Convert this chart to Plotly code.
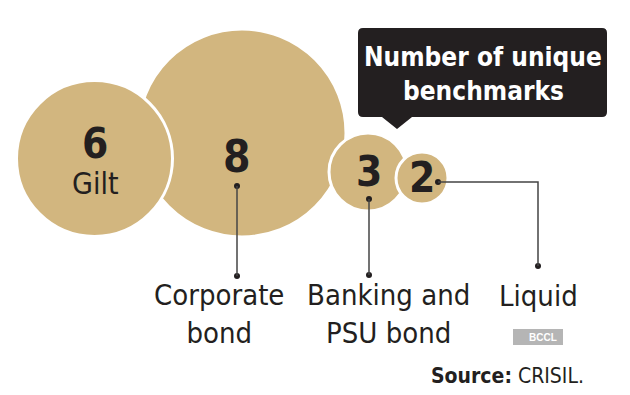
import plotly.graph_objects as go

# ---- data ----
categories = ["Gilt", "Corporate bond", "Banking and PSU bond", "Liquid"]
values = [6, 8, 3, 2]
label_text = ["Gilt", "Corporate<br>bond", "Banking and<br>PSU bond", "Liquid"]

# ---- layout (pixel space) ----
W, H = 630, 395
PX_PER_UNIT = 13  # radius in px per benchmark
centers = [(94.5, 158.5), (242, 133), (368, 172), (422, 178)]
draw_order = [1, 0, 2, 3]
num_pos = [(95, 143), (237, 156), (369, 171), (422, 177)]
num_size = [42, 44, 42, 42]
TAN = "#d2b67f"
DARK = "#231f20"
FONT = "Liberation Sans Narrow, DejaVu Sans Condensed, Roboto, sans-serif"

fig = go.Figure()

# bubbles
for i in draw_order:
    fig.add_trace(go.Scatter(
        x=[centers[i][0]], y=[centers[i][1]], mode="markers",
        marker=dict(size=[values[i]], sizemode="diameter", sizeref=1 / (2 * PX_PER_UNIT),
                    color=TAN, opacity=1, line=dict(color="white", width=3)),
        hoverinfo="skip", showlegend=False))

# value labels
for i, v in enumerate(values):
    fig.add_annotation(x=num_pos[i][0], y=num_pos[i][1], text=f"<b>{v}</b>", showarrow=False,
                       font=dict(family=FONT, size=num_size[i], color=DARK), xanchor="center", yanchor="middle")
fig.add_annotation(x=95, y=183, text="Gilt", showarrow=False,
                   font=dict(family=FONT, size=30, color=DARK), xanchor="center", yanchor="middle")

# connectors
conn_paths = [
    [(237, 186), (237, 276)],
    [(369, 199), (369, 275)],
    [(438, 182), (538, 182), (538, 266)],
]
for pts in conn_paths:
    path = "M " + " L ".join(f"{x},{y}" for x, y in pts)
    fig.add_shape(type="path", path=path, line=dict(color="#444444", width=1.5), layer="above")
    fig.add_trace(go.Scatter(x=[pts[0][0], pts[-1][0]], y=[pts[0][1], pts[-1][1]], mode="markers",
                             marker=dict(size=6, color=DARK, opacity=1), hoverinfo="skip", showlegend=False))

# category labels
label_pos = [(219, 314), (388, 314), (538, 296)]
for (x, y), t in zip(label_pos, label_text[1:]):
    fig.add_annotation(x=x, y=y, text=t, showarrow=False, align="center",
                       font=dict(family=FONT, size=29, color=DARK), xanchor="center", yanchor="middle")

# callout box
x0, x1, y0, y1, r = 358, 607, 28, 117, 5
box = (f"M {x0+r},{y0} L {x1-r},{y0} Q {x1},{y0} {x1},{y0+r} L {x1},{y1-r} Q {x1},{y1} {x1-r},{y1} "
       f"L 412,{y1} L 397,129 L 382,{y1} L {x0+r},{y1} Q {x0},{y1} {x0},{y1-r} L {x0},{y0+r} Q {x0},{y0} {x0+r},{y0} Z")
fig.add_shape(type="path", path=box, fillcolor=DARK, line=dict(width=0), layer="above")
fig.add_annotation(x=483, y=57, text="<b>Number of unique</b>", showarrow=False,
                   font=dict(family=FONT, size=26, color="white"), xanchor="center", yanchor="middle")
fig.add_annotation(x=483, y=91, text="<b>benchmarks</b>", showarrow=False,
                   font=dict(family=FONT, size=26, color="white"), xanchor="center", yanchor="middle")

# BCCL tag
fig.add_shape(type="rect", x0=513, x1=563, y0=329, y1=345, fillcolor="#b5b5b5", line=dict(width=0))
fig.add_annotation(x=543, y=337.5, text="<b>BCCL</b>", showarrow=False,
                   font=dict(family="Liberation Sans, Arial, sans-serif", size=10, color="white"),
                   xanchor="center", yanchor="middle")

# source
fig.add_annotation(x=586, y=376, text="<b>Source:</b> CRISIL.", showarrow=False,
                   font=dict(family=FONT, size=21, color=DARK), xanchor="right", yanchor="middle")

fig.update_layout(
    width=W, height=H, margin=dict(l=0, r=0, t=0, b=0),
    paper_bgcolor="white", plot_bgcolor="white",
    xaxis=dict(range=[0, W], visible=False, fixedrange=True),
    yaxis=dict(range=[H, 0], visible=False, fixedrange=True),
)
fig.write_html("out.html", config={"displayModeBar": False},
               post_script="document.body.style.margin='0';document.body.style.overflow='hidden';")
